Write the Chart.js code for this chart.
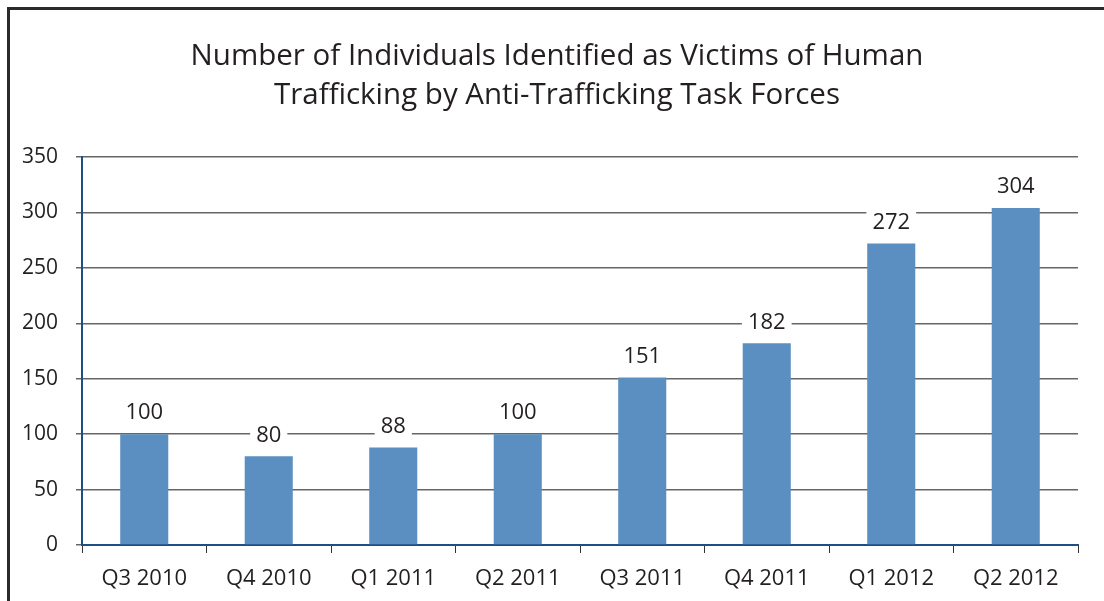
<!DOCTYPE html>
<html>
<head>
<meta charset="utf-8">
<script src="https://cdn.jsdelivr.net/npm/chart.js@4"></script>
<style>
    html, body { margin: 0; padding: 0; background: #fff; }
    #wrap { position: relative; width: 1104px; height: 601px; }
    #frame { position: absolute; left: 7px; top: 7px; right: 0; bottom: 0;
             border-left: 3px solid #2b2b2b; border-top: 3px solid #2b2b2b; }
    canvas { position: absolute; left: 0; top: 0; }
</style>
</head>
<body>
<div id="wrap">
    <div id="frame"></div>
    <canvas id="victimsChart" width="1104" height="601"></canvas>
</div>
<script>
const quarters = ['Q3 2010', 'Q4 2010', 'Q1 2011', 'Q2 2011', 'Q3 2011', 'Q4 2011', 'Q1 2012', 'Q2 2012'];
const victims = [100, 80, 88, 100, 151, 182, 272, 304];
const titleLines = ['Number of Individuals Identified as Victims of Human', 'Trafficking by Anti-Trafficking Task Forces'];

const textColor = '#231f20';
const fontFamily = '"Open Sans", "DejaVu Sans", sans-serif';

// value labels on a white box above each bar
const valueLabels = {
    id: 'valueLabels',
    afterDatasetsDraw(chart) {
        const ctx = chart.ctx;
        const meta = chart.getDatasetMeta(0);
        ctx.save();
        ctx.font = '22px ' + fontFamily;
        ctx.textAlign = 'center';
        ctx.textBaseline = 'middle';
        meta.data.forEach((bar, i) => {
            const text = String(victims[i]);
            const w = ctx.measureText(text).width;
            const y = bar.y - 21;
            ctx.fillStyle = '#fff';
            ctx.fillRect(bar.x - w / 2 - 6, y - 13, w + 12, 26);
            ctx.fillStyle = textColor;
            ctx.fillText(text, bar.x, y);
        });
        ctx.restore();
    }
};

// two-line title, centred a bit right of the plot like the original
const chartTitle = {
    id: 'chartTitle',
    afterDraw(chart) {
        const ctx = chart.ctx;
        ctx.save();
        ctx.font = '29.5px ' + fontFamily;
        ctx.fillStyle = textColor;
        ctx.textAlign = 'center';
        ctx.textBaseline = 'middle';
        titleLines.forEach((line, i) => {
            ctx.fillText(line, 557, 57 + i * 38.6);
        });
        ctx.restore();
    }
};

const canvas = document.getElementById('victimsChart');

new Chart(canvas, {
    type: 'bar',
    data: {
        labels: quarters,
        datasets: [{
            data: victims,
            backgroundColor: '#5b8fc1',
            barPercentage: 0.386,
            categoryPercentage: 1.0
        }]
    },
    options: {
        responsive: false,
        animation: false,
        layout: { padding: { left: 0, right: 26, top: 157, bottom: 0 } },
        plugins: {
            legend: { display: false },
            tooltip: { enabled: false },
            title: { display: false }
        },
        scales: {
            x: {
                grid: {
                    offset: true,
                    drawOnChartArea: false,
                    tickLength: 8,
                    color: '#333'
                },
                border: { color: '#1f4e85', width: 2 },
                ticks: {
                    color: textColor,
                    font: { family: fontFamily, size: 22 },
                    padding: 13
                },
                afterFit(scale) { scale.height = 56; }
            },
            y: {
                min: 0,
                max: 350,
                ticks: {
                    stepSize: 50,
                    color: textColor,
                    font: { family: fontFamily, size: 21 },
                    padding: 18
                },
                grid: {
                    color: '#666',
                    lineWidth: 1.5,
                    tickLength: 6
                },
                border: { color: '#1f4e85', width: 2 },
                afterFit(scale) { scale.width = 82; }
            }
        }
    },
    plugins: [valueLabels, chartTitle]
});
</script>
</body>
</html>
